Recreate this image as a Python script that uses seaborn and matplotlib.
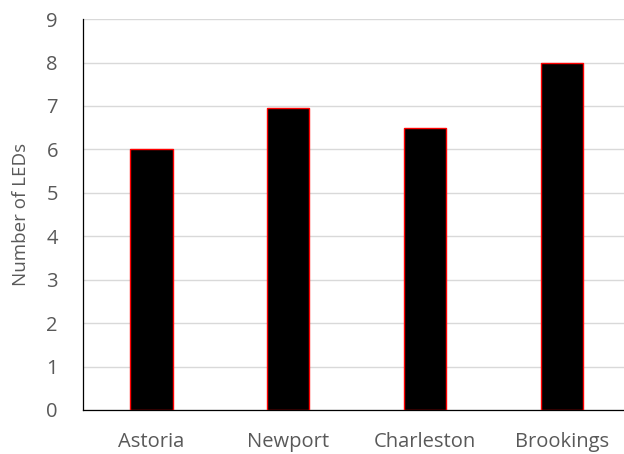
import matplotlib
matplotlib.use("Agg")
import matplotlib.pyplot as plt
import seaborn as sns
import pandas as pd

cities = ["Astoria", "Newport", "Charleston", "Brookings"]
led_counts = [6, 6.95, 6.5, 8]
y_ticks = list(range(0, 10))

df = pd.DataFrame({"City": cities, "LEDs": led_counts})

sns.set_theme(style="white")
plt.rcParams["font.family"] = ["Open Sans", "DejaVu Sans"]

fig = plt.figure(figsize=(6.24, 4.54), dpi=100)
ax = fig.add_axes([0.133, 0.097, 0.877, 0.861])

sns.barplot(data=df, x="City", y="LEDs", color="black", width=0.31,
            edgecolor="#ff0000", linewidth=1.0, saturation=1, ax=ax, zorder=3)

ax.set_ylim(0, 9)
ax.set_yticks(y_ticks)
ax.set_xlim(-0.5, 3.5)
ax.yaxis.grid(True, color="#d9d9d9", linewidth=1.0, zorder=0)
ax.set_axisbelow(True)

for side in ["top", "right"]:
    ax.spines[side].set_visible(False)
for side in ["left", "bottom"]:
    ax.spines[side].set_color("#000000")
    ax.spines[side].set_linewidth(0.9)

ax.tick_params(axis="both", length=0, labelsize=14.5, labelcolor="#595959")
ax.tick_params(axis="y", pad=18)
ax.tick_params(axis="x", pad=16)
ax.set_xlabel("")
ax.set_ylabel("Number of LEDs", fontsize=13.5, color="#595959", labelpad=12)

fig.savefig("out.png", dpi=100)
